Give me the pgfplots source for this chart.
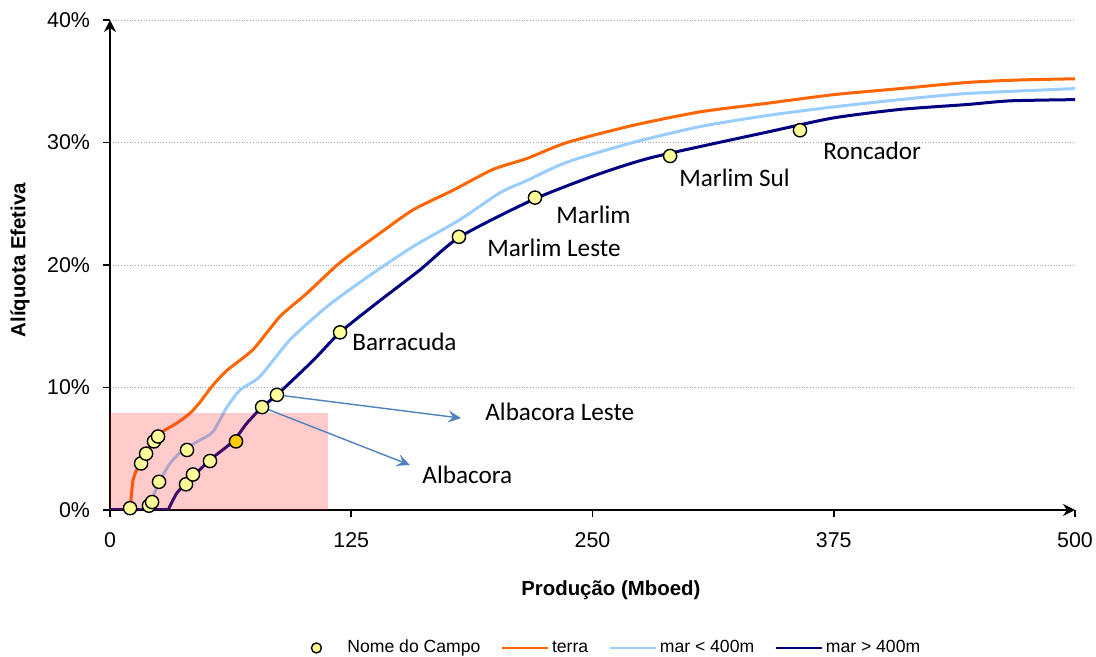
\documentclass[border=0pt]{standalone}
\usepackage{pgfplots}
\pgfplotsset{compat=1.18}
\usepackage{fontspec}
\setmainfont{Liberation Sans}
\newfontfamily\calibri{Carlito}
\usetikzlibrary{arrows.meta}

\definecolor{terra}{HTML}{FF6600}
\definecolor{marraso}{HTML}{99CCFF}
\definecolor{marfundo}{HTML}{000080}
\definecolor{campo}{HTML}{FFFF99}
\definecolor{campoouro}{HTML}{FFCC00}
\definecolor{seta}{HTML}{4F81BD}

\pgfplotsset{
  linhaleg/.style={legend image code/.code={\draw[##1] (0pt,0pt) -- (23pt,0pt);}},
  marcaleg/.style={legend image code/.code={\path[draw=none] (0pt,0pt) -- (23pt,0pt);
      \draw[##1] plot coordinates {(9pt,0pt)};}},
}

\begin{document}
\begin{tikzpicture}
\begin{axis}[
  name=ax,
  scale only axis, width=482.5pt, height=245pt,
  xmin=0, xmax=500, ymin=0, ymax=40,
  axis x line=bottom, axis y line=left,
  axis line style={line width=0.9pt, -{Stealth[length=6pt,width=6pt,inset=2pt]}},
  xtick={0,125,250,375,500}, ytick={0,10,20,30,40},
  yticklabel={\pgfmathprintnumber{\tick}\%},
  tick align=outside, major tick length=3.5pt,
  tick style={line width=0.9pt, black},
  ymajorgrids, grid style={densely dotted, gray!70, line width=0.5pt},
  /pgf/number format/assume math mode=true,
  ticklabel style={font=\fontsize{10.7}{12}\selectfont},
  xticklabel style={yshift=-4pt},
  yticklabel style={xshift=-3pt},
  xlabel={Produção (Mboed)}, ylabel={Alíquota Efetiva},
  label style={font=\fontsize{10.2}{12}\selectfont\bfseries},
  xlabel style={at={(0.519,-0.163)}, anchor=center},
  ylabel style={at={(-0.0933,0.51)}, anchor=center},
  legend columns=4,
  legend style={at={(0.519,-0.2816)}, anchor=center, draw=none, fill=none,
    font=\fontsize{8.8}{10}\selectfont,
    nodes={inner xsep=1.5pt},
    /tikz/every even column/.append style={column sep=9pt}},
]
\addlegendimage{marcaleg, only marks, mark=*, mark size=2.5pt,
  mark options={fill=campo, draw=black, line width=0.7pt}}
\addlegendentry{Nome do Campo}
\addlegendimage{linhaleg, color=terra, line width=0.8pt}
\addlegendentry{terra}
\addlegendimage{linhaleg, color=marraso, line width=0.8pt}
\addlegendentry{mar < 400m}
\addlegendimage{linhaleg, color=marfundo, line width=0.8pt}
\addlegendentry{mar > 400m}

% terra
\addplot[forget plot, color=terra, line width=1.5pt] coordinates {(0,0) (10.4,0)};
\addplot[forget plot, color=terra, line width=1.5pt, smooth, tension=0.4] coordinates {
 (10.4,0) (11.9,2.4) (14.5,3.5) (19.2,4.9) (24.4,6.1) (34.7,7.1)
 (41.5,7.9) (46.6,8.8) (53.4,10.2) (60.6,11.4) (74.1,13.1) (88.1,15.8)
 (102.1,17.7) (119.2,20.2) (139.9,22.6) (157.0,24.5) (177.7,26.1)
 (198.4,27.8) (216.1,28.7) (236.8,30.0) (271.0,31.4) (305.7,32.5)
 (340.4,33.2) (374.6,33.9) (409.3,34.4) (444.0,34.9) (470.5,35.1) (500,35.2)
};
% mar < 400m
\addplot[forget plot, color=marraso, line width=1.5pt] coordinates {(0,0) (20.7,0)};
\addplot[forget plot, color=marraso, line width=1.5pt, smooth, tension=0.4] coordinates {
 (20.7,0) (22.3,1.1) (25.9,2.4) (31.1,3.8) (37.8,4.9) (46.6,5.7)
 (53.4,6.4) (60.6,8.4) (67.4,9.8) (77.7,10.9) (93.3,13.9) (112.4,16.6)
 (133.2,19.0) (157.0,21.5) (181.3,23.7) (202.1,25.9) (216.1,26.9)
 (236.8,28.4) (271.0,30.0) (305.7,31.3) (340.4,32.2) (374.6,32.9)
 (409.3,33.5) (444.0,34.0) (500,34.4)
};
% mar > 400m
\addplot[forget plot, color=marfundo, line width=1.5pt] coordinates {(0,0) (30.1,0)};
\addplot[forget plot, color=marfundo, line width=1.5pt, smooth, tension=0.4] coordinates {
 (30.1,0) (34.7,1.4) (39.9,2.2) (46.6,3.3) (51.8,4.1) (63.7,5.6)
 (71.0,7.1) (78.8,8.4) (86.5,9.4) (105.2,12.2) (119.2,14.5) (139.9,17.1)
 (160.6,19.6) (181.3,22.3) (218.7,25.3) (251.0,27.3) (281.3,28.8)
 (342.0,30.9) (374.6,32.0) (409.3,32.7) (444.0,33.1) (466.3,33.4) (500,33.5)
};
% campos
\addplot[forget plot, only marks, mark=*, mark size=3.3pt,
  mark options={fill=campo, draw=black, line width=0.7pt}] coordinates {
 (10.4,0.15) (20.2,0.35) (21.8,0.65) (16.1,3.8) (18.7,4.6) (22.8,5.6)
 (24.9,6.0) (25.4,2.3) (39.9,4.9) (39.4,2.1) (43.0,2.9) (51.8,4.0)
 (78.8,8.4) (86.5,9.4) (119.2,14.5) (180.8,22.3) (220.2,25.5)
 (290.2,28.9) (357.5,31.0)
};
\addplot[forget plot, only marks, mark=*, mark size=3.3pt,
  mark options={fill=campoouro, draw=black, line width=0.7pt}] coordinates {
 (65.3,5.6)
};

% area destacada
\fill[red!85, opacity=0.24] (axis cs:0,0) rectangle (axis cs:113,7.9);

% setas
\draw[seta, line width=0.7pt, -{Stealth[length=6.5pt,width=6pt,inset=2.5pt]}]
  (axis cs:86.5,9.4) -- (axis cs:181.9,7.5);
\draw[seta, line width=0.7pt, -{Stealth[length=6.5pt,width=6pt,inset=2.5pt]}]
  (axis cs:78.8,8.4) -- (axis cs:155.4,3.67);

% rotulos
\begin{scope}[every node/.style={anchor=west, inner sep=0pt,
    font=\calibri\fontsize{12.6}{14}\selectfont}]
\node at (axis cs:194.3,8.0) {Albacora Leste};
\node at (axis cs:161.7,2.86) {Albacora};
\node at (axis cs:125.4,13.7) {Barracuda};
\node at (axis cs:195.3,21.4) {Marlim Leste};
\node at (axis cs:231.1,24.1) {Marlim};
\node at (axis cs:294.8,27.1) {Marlim Sul};
\node at (axis cs:369.4,29.3) {Roncador};
\end{scope}
\end{axis}
\pgfresetboundingbox
\path[use as bounding box] (ax.south west) ++(-55pt,-73.5pt) rectangle ++(548pt,328.5pt);
\end{tikzpicture}
\end{document}
